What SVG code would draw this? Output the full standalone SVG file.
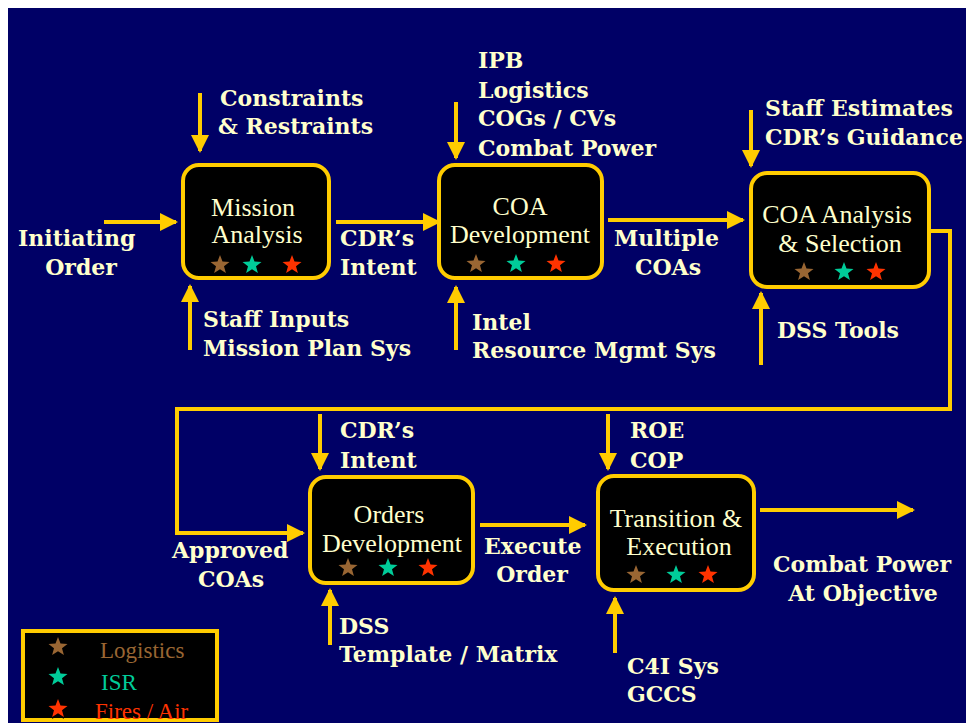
<svg xmlns="http://www.w3.org/2000/svg" xmlns:xlink="http://www.w3.org/1999/xlink" width="966" height="723" viewBox="0 0 966 723">
<style>
.node rect{fill:#000;stroke:#FFCC00;stroke-width:4}
.nt{font-family:"Liberation Serif","Times New Roman",serif;font-size:26px;fill:#FFFFCC;text-anchor:middle}
.lb{font-family:"DejaVu Serif",serif;font-weight:bold;font-size:22px;fill:#FFFFCC}
.mid{text-anchor:middle}
.conn line,.conn polyline{stroke:#FFCC00;stroke-width:4;fill:none}
.lg{font-family:"Liberation Serif","Times New Roman",serif;font-size:23px}
</style>
<defs>
<marker id="ah" markerUnits="userSpaceOnUse" markerWidth="18" markerHeight="18" refX="16" refY="9" orient="auto">
<path d="M0,0 L18,9 L0,18 Z" fill="#FFCC00"/>
</marker>
<path id="star" d="M0,-10 L2.5,-3.4 L9.51,-3.09 L4,1.3 L5.88,8.09 L0,4.2 L-5.88,8.09 L-4,1.3 L-9.51,-3.09 L-2.5,-3.4 Z"/>
</defs>
<rect x="0" y="0" width="966" height="723" fill="#fff"/>
<rect x="8" y="8" width="958" height="715" fill="#000066"/>

<g class="conn" id="connectors">
<line x1="104" y1="222" x2="176" y2="222" marker-end="url(#ah)"/>
<line x1="200" y1="93" x2="200" y2="151" marker-end="url(#ah)"/>
<line x1="190" y1="350" x2="190" y2="286" marker-end="url(#ah)"/>
<line x1="336" y1="222" x2="439" y2="222" marker-end="url(#ah)"/>
<line x1="456" y1="102" x2="456" y2="158" marker-end="url(#ah)"/>
<line x1="456" y1="350" x2="456" y2="287" marker-end="url(#ah)"/>
<line x1="608" y1="220" x2="743" y2="220" marker-end="url(#ah)"/>
<line x1="751" y1="110" x2="751" y2="166" marker-end="url(#ah)"/>
<line x1="761" y1="365" x2="761" y2="293" marker-end="url(#ah)"/>
<polyline points="929,231 950,231 950,409 177,409 177,533 303,533" marker-end="url(#ah)"/>
<line x1="320" y1="414" x2="320" y2="469" marker-end="url(#ah)"/>
<line x1="330" y1="645" x2="330" y2="590" marker-end="url(#ah)"/>
<line x1="480" y1="525" x2="585" y2="525" marker-end="url(#ah)"/>
<line x1="608" y1="414" x2="608" y2="469" marker-end="url(#ah)"/>
<line x1="615" y1="653" x2="615" y2="598" marker-end="url(#ah)"/>
<line x1="760" y1="510" x2="913" y2="510" marker-end="url(#ah)"/>
</g>

<g class="node" id="mission-analysis">
<rect x="183" y="165" width="146" height="113" rx="16"/>
<text class="nt" x="253" y="216">Mission</text>
<text class="nt" x="257" y="243">Analysis</text>
<use xlink:href="#star" fill="#000" x="220" y="267"/><use xlink:href="#star" fill="#996633" x="220" y="265"/>
<use xlink:href="#star" fill="#000" x="252" y="267"/><use xlink:href="#star" fill="#00CC99" x="252" y="265"/>
<use xlink:href="#star" fill="#000" x="292" y="267"/><use xlink:href="#star" fill="#FF3300" x="292" y="265"/>
</g>

<g class="node" id="coa-development">
<rect x="439" y="165" width="163" height="113" rx="16"/>
<text class="nt" x="520" y="215">COA</text>
<text class="nt" x="520" y="243">Development</text>
<use xlink:href="#star" fill="#000" x="476" y="266"/><use xlink:href="#star" fill="#996633" x="476" y="264"/>
<use xlink:href="#star" fill="#000" x="516" y="266"/><use xlink:href="#star" fill="#00CC99" x="516" y="264"/>
<use xlink:href="#star" fill="#000" x="556" y="266"/><use xlink:href="#star" fill="#FF3300" x="556" y="264"/>
</g>

<g class="node" id="coa-analysis">
<rect x="751" y="173" width="178" height="114" rx="16"/>
<text class="nt" x="837" y="223">COA Analysis</text>
<text class="nt" x="840" y="252">&amp; Selection</text>
<use xlink:href="#star" fill="#000" x="804" y="274"/><use xlink:href="#star" fill="#996633" x="804" y="272"/>
<use xlink:href="#star" fill="#000" x="844" y="274"/><use xlink:href="#star" fill="#00CC99" x="844" y="272"/>
<use xlink:href="#star" fill="#000" x="876" y="274"/><use xlink:href="#star" fill="#FF3300" x="876" y="272"/>
</g>

<g class="node" id="orders-development">
<rect x="310" y="477" width="163" height="106" rx="16"/>
<text class="nt" x="389" y="523">Orders</text>
<text class="nt" x="392" y="552">Development</text>
<use xlink:href="#star" fill="#000" x="348" y="570"/><use xlink:href="#star" fill="#996633" x="348" y="568"/>
<use xlink:href="#star" fill="#000" x="388" y="570"/><use xlink:href="#star" fill="#00CC99" x="388" y="568"/>
<use xlink:href="#star" fill="#000" x="428" y="570"/><use xlink:href="#star" fill="#FF3300" x="428" y="568"/>
</g>

<g class="node" id="transition-execution">
<rect x="598" y="476" width="156" height="114" rx="16"/>
<text class="nt" x="676" y="527">Transition &amp;</text>
<text class="nt" x="679" y="555">Execution</text>
<use xlink:href="#star" fill="#000" x="636" y="577"/><use xlink:href="#star" fill="#996633" x="636" y="575"/>
<use xlink:href="#star" fill="#000" x="676" y="577"/><use xlink:href="#star" fill="#00CC99" x="676" y="575"/>
<use xlink:href="#star" fill="#000" x="708" y="577"/><use xlink:href="#star" fill="#FF3300" x="708" y="575"/>
</g>

<g id="labels">
<text class="lb" x="220" y="106">Constraints</text>
<text class="lb" x="218" y="134">&amp; Restraints</text>
<text class="lb" x="18" y="246">Initiating</text>
<text class="lb mid" x="81" y="275">Order</text>
<text class="lb" x="203" y="327">Staff Inputs</text>
<text class="lb" x="203" y="356">Mission Plan Sys</text>
<text class="lb" x="340" y="246">CDR’s</text>
<text class="lb" x="340" y="275">Intent</text>
<text class="lb" x="478" y="68">IPB</text>
<text class="lb" x="478" y="98">Logistics</text>
<text class="lb" x="478" y="126">COGs / CVs</text>
<text class="lb" x="478" y="156">Combat Power</text>
<text class="lb" x="472" y="330">Intel</text>
<text class="lb" x="472" y="358">Resource Mgmt Sys</text>
<text class="lb" x="614" y="246">Multiple</text>
<text class="lb mid" x="668" y="275">COAs</text>
<text class="lb" x="765" y="116">Staff Estimates</text>
<text class="lb" x="765" y="145">CDR’s Guidance</text>
<text class="lb" x="777" y="338">DSS Tools</text>
<text class="lb" x="340" y="438">CDR’s</text>
<text class="lb" x="340" y="468">Intent</text>
<text class="lb" x="172" y="558">Approved</text>
<text class="lb mid" x="231" y="587">COAs</text>
<text class="lb" x="484" y="554">Execute</text>
<text class="lb mid" x="532" y="582">Order</text>
<text class="lb" x="630" y="438">ROE</text>
<text class="lb" x="630" y="468">COP</text>
<text class="lb mid" x="862" y="572">Combat Power</text>
<text class="lb mid" x="863" y="601">At Objective</text>
<text class="lb" x="339" y="634">DSS</text>
<text class="lb" x="339" y="662">Template / Matrix</text>
<text class="lb" x="627" y="674">C4I Sys</text>
<text class="lb" x="627" y="702">GCCS</text>
</g>

<g id="legend">
<rect x="23" y="631" width="194" height="89" fill="#000" stroke="#FFCC00" stroke-width="4"/>
<use xlink:href="#star" fill="#000" x="58" y="649"/><use xlink:href="#star" fill="#996633" x="58" y="647"/>
<use xlink:href="#star" fill="#000" x="58" y="679"/><use xlink:href="#star" fill="#00CC99" x="58" y="677"/>
<use xlink:href="#star" fill="#000" x="58" y="711"/><use xlink:href="#star" fill="#FF3300" x="58" y="709"/>
<text class="lg" x="100" y="658" fill="#996633">Logistics</text>
<text class="lg" x="101" y="690" fill="#00CC99">ISR</text>
<text class="lg" x="95" y="719" fill="#FF3300">Fires / Air</text>
</g>
</svg>
